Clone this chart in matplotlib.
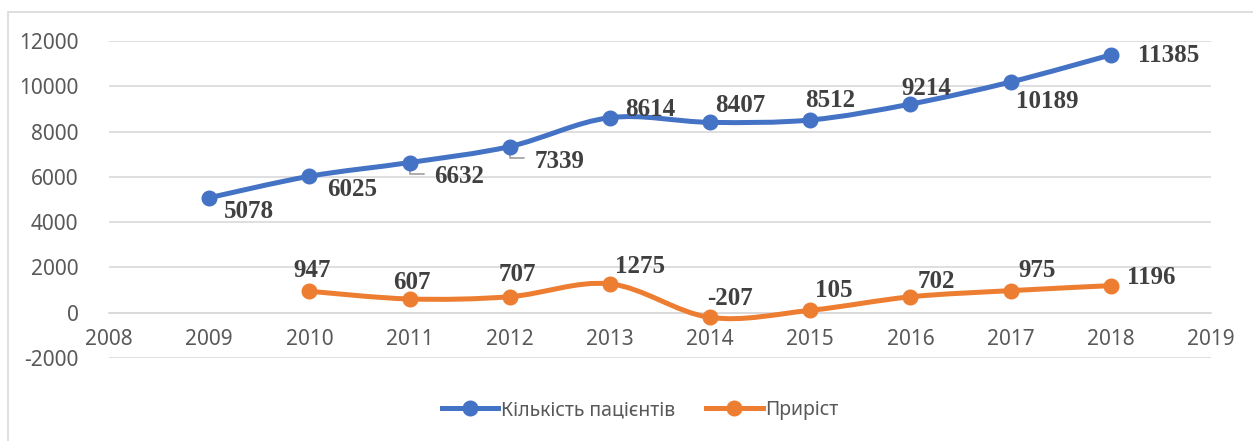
import numpy as np
import matplotlib
matplotlib.use('Agg')
import matplotlib.pyplot as plt
from matplotlib.path import Path
from matplotlib.patches import PathPatch, Rectangle
from matplotlib.lines import Line2D

plt.rcParams['axes.unicode_minus'] = False

years = [2009, 2010, 2011, 2012, 2013, 2014, 2015, 2016, 2017, 2018]
patients = [5078, 6025, 6632, 7339, 8614, 8407, 8512, 9214, 10189, 11385]
growth_years = [2010, 2011, 2012, 2013, 2014, 2015, 2016, 2017, 2018]
growth = [947, 607, 707, 1275, -207, 105, 702, 975, 1196]

series_names = ['Кількість пацієнтів', 'Приріст']

# label offsets in pixels (dx, dy up)
patients_off = [(40, -14), (43, -13), (50, -14), (50, -15), (40, 8),
                (30, 17), (20, 19), (16, 16), (37, -19), (58, -1)]
growth_off = [(3, 21), (2, 16), (8, 22), (30, 17), (20, 19),
              (23, 20), (26, 15), (26, 20), (40, 8)]

BLUE = '#4472C4'
ORANGE = '#ED7D31'
GRID = '#d9d9d9'
TXT = '#595959'
LBL = '#404040'


def smooth_path(xs, ys):
    # excel-like smoothed line (bezier segments through the points)
    p = np.column_stack([xs, ys]).astype(float)
    n = len(p)
    verts = [p[0]]
    codes = [Path.MOVETO]
    for i in range(n - 1):
        p0 = p[i - 1] if i > 0 else p[i]
        p3 = p[i + 2] if i + 2 < n else p[i + 1]
        c1 = p[i] + (p[i + 1] - p0) / 6.0
        c2 = p[i + 1] - (p3 - p[i]) / 6.0
        verts += [c1, c2, p[i + 1]]
        codes += [Path.CURVE4] * 3
    return Path(verts, codes)


fig = plt.figure(figsize=(12.53, 4.41), dpi=100)
fig.patches.append(Rectangle((8 / 1253, -0.05), 1.0, 1.05 - 12 / 441,
                             transform=fig.transFigure, fill=False,
                             edgecolor=GRID, lw=1.2))
ax = fig.add_axes([109 / 1253, 1 - 358 / 441, (1211 - 109) / 1253, (358 - 41) / 441])

ax.set_xlim(2008, 2019)
ax.set_ylim(-2000, 12000)
ax.set_xticks(range(2008, 2020))
ax.set_yticks(range(-2000, 12001, 2000))
ax.grid(axis='y', color=GRID, lw=1.2)
ax.set_axisbelow(True)
for s in ['top', 'right', 'left']:
    ax.spines[s].set_visible(False)
ax.spines['bottom'].set_position(('data', 0))
ax.spines['bottom'].set_color(GRID)
ax.spines['bottom'].set_linewidth(1.2)
ax.tick_params(length=0, labelsize=15, labelcolor=TXT)
ax.tick_params(axis='y', pad=22)
ax.tick_params(axis='x', pad=12)
for t in ax.get_xticklabels() + ax.get_yticklabels():
    t.set_family(['Noto Sans', 'DejaVu Sans'])

for xs, ys, col in [(years, patients, BLUE), (growth_years, growth, ORANGE)]:
    ax.add_patch(PathPatch(smooth_path(xs, ys), fill=False, edgecolor=col,
                           lw=3.6, capstyle='round', joinstyle='round', zorder=3))
    ax.plot(xs, ys, linestyle='none', marker='o', ms=10.5, color=col, zorder=4)

lbl_font = dict(family=['Liberation Serif', 'DejaVu Serif'], weight='bold',
                size=18, color=LBL)
for x, y, (dx, dy) in zip(years, patients, patients_off):
    ax.annotate(str(y), (x, y), xytext=(dx, dy), textcoords='offset pixels',
                ha='center', va='center', zorder=5, **lbl_font)
for x, y, (dx, dy) in zip(growth_years, growth, growth_off):
    ax.annotate(str(y), (x, y), xytext=(dx, dy), textcoords='offset pixels',
                ha='center', va='center', zorder=5, **lbl_font)

# leader lines for 6632 and 7339
for i in [2, 3]:
    ax.annotate('', (years[i], patients[i]), xytext=(14, -11.5),
                textcoords='offset pixels', zorder=2,
                arrowprops=dict(arrowstyle='-', color='#a6a6a6', lw=1.3,
                                connectionstyle='angle,angleA=0,angleB=90,rad=0',
                                shrinkA=0, shrinkB=0))

handles = [Line2D([], [], color=BLUE, lw=3.6, marker='o', ms=10.5),
           Line2D([], [], color=ORANGE, lw=3.6, marker='o', ms=10.5)]
leg = fig.legend(handles, series_names, loc='center', bbox_to_anchor=(0.511, 0.07),
                 ncol=2, frameon=False, handlelength=2.9, handletextpad=0.15,
                 columnspacing=1.6, prop={'family': ['Noto Sans', 'DejaVu Sans'], 'size': 14})
for t in leg.get_texts():
    t.set_color(TXT)

fig.savefig('out.png', dpi=100)
